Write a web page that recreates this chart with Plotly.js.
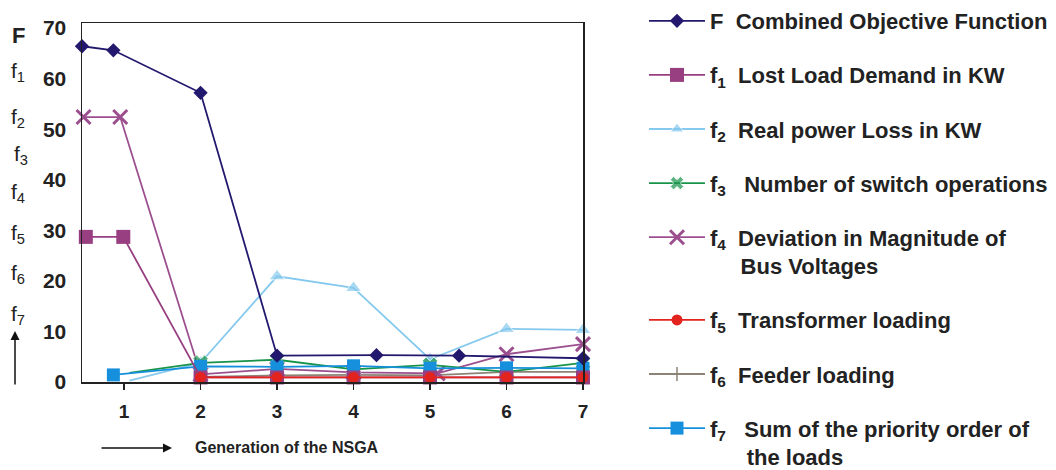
<!DOCTYPE html>
<html>
<head>
<meta charset="utf-8">
<script src="https://cdn.plot.ly/plotly-3.0.1.min.js"></script>
<style>html,body{margin:0;padding:0;background:#fff;}#chart{width:1056px;height:470px;}</style>
</head>
<body>
<div id="chart"></div>
<script>
// Generation positions (x) and objective values (y)
const xF  = [0.45, 0.86, 2, 3, 4.3, 5.38, 7];
const yF  = [66.4, 65.6, 57.2, 5.2, 5.3, 5.2, 4.7];
const xF1 = [0.5, 0.99, 2, 3, 4, 5, 6, 7];
const yF1 = [28.7, 28.7, 0.9, 0.9, 0.9, 0.9, 0.9, 0.9];
const xF2 = [1.07, 2, 3, 4, 5, 6, 7];
const yF2 = [0.25, 3.8, 20.9, 18.6, 4.5, 10.5, 10.3];
const xF3 = [1.07, 2, 3, 4, 5, 6, 7];
const yF3 = [1.8, 3.8, 4.4, 2.5, 3.4, 2.0, 3.8];
const xF4 = [0.47, 0.95, 2, 3, 4, 5.1, 6, 7];
const yF4 = [52.4, 52.4, 1.5, 2.6, 1.9, 1.7, 5.5, 7.5];
const xF5 = [2, 3, 4, 5, 6, 7];
const yF5 = [0.9, 0.9, 0.9, 0.9, 0.9, 0.9];
const xF6 = [2, 3, 4, 5, 6, 7];
const yF6 = [1.0, 1.3, 1.4, 1.3, 2.0, 2.0];
const xF7 = [0.86, 2, 3, 4, 5, 6, 7];
const yF7 = [1.4, 3.1, 3.0, 3.2, 2.7, 2.8, 2.7];

const names = [
  'F\u00a0\u00a0Combined Objective Function',
  'f<sub>1</sub>\u00a0\u00a0Lost Load Demand in KW',
  'f<sub>2</sub>\u00a0\u00a0Real power Loss in KW',
  'f<sub>3</sub>\u00a0\u00a0\u00a0Number of switch operations',
  'f<sub>4</sub>\u00a0\u00a0Deviation in Magnitude of<br>\u00a0\u00a0\u00a0\u00a0\u00a0Bus Voltages',
  'f<sub>5</sub>\u00a0\u00a0Transformer loading',
  'f<sub>6</sub>\u00a0\u00a0Feeder loading',
  'f<sub>7</sub>\u00a0\u00a0\u00a0Sum of the priority order of<br>\u00a0\u00a0\u00a0\u00a0\u00a0\u00a0the loads'
];

function tr(x, y, rank, color, symbol, size, extra) {
  const t = {
    type: 'scatter', mode: 'lines+markers', x: x, y: y,
    name: names[rank], legendrank: rank + 1, legendgroup: 'g' + rank,
    cliponaxis: false,
    line: {color: color, width: 1.8},
    marker: {color: color, symbol: symbol, size: size}
  };
  if (extra) Object.assign(t.marker, extra);
  return t;
}

const data = [
  tr(xF2, yF2, 2, '#86c9ee', 'triangle-up', [0, 14, 14, 14, 14, 14, 14]),
  tr(xF6, yF6, 6, '#8c8275', 'line-ns-open', 10, {line: {color: '#8c8275', width: 1.5}}),
  tr(xF4, yF4, 4, '#9c4f8e', 'x-thin-open', 14, {line: {color: '#9c4f8e', width: 3}}),
  tr(xF3, yF3, 3, '#17944a', 'x', [0, 14, 14, 14, 14, 14, 14]),
  tr(xF7, yF7, 7, '#1690dc', 'square', 13),
  tr(xF1, yF1, 1, '#973f80', 'square', 14),
  tr(xF5, yF5, 5, '#e2231e', 'circle', 11),
  tr(xF,  yF,  0, '#22186e', 'diamond', 11)
];

const sideLabels = ['F', 'f<sub>1</sub>', 'f<sub>2</sub>', 'f<sub>3</sub>', 'f<sub>4</sub>', 'f<sub>5</sub>', 'f<sub>6</sub>', 'f<sub>7</sub>'];
const sideY = [35, 72, 118, 155, 193, 234, 274, 315];
const sideX = [18, 18, 18, 21, 18, 18, 18, 18];

const annotations = sideLabels.map((s, i) => ({
  text: s, xref: 'paper', yref: 'paper', showarrow: false,
  x: (sideX[i] - 82) / 501, y: (382 - sideY[i]) / 359,
  xanchor: 'center', yanchor: 'middle',
  font: {family: 'Liberation Sans, Arial, sans-serif', size: i === 0 ? 22 : 21, color: '#222', weight: i === 0 ? 'bold' : 'normal'}
}));
// upward arrow under the side labels
annotations.push({
  text: '', xref: 'paper', yref: 'paper', x: (15 - 82) / 501, y: (382 - 331) / 359,
  ax: 0, ay: 55, showarrow: true, arrowhead: 2, arrowsize: 1.2, arrowwidth: 1.5, arrowcolor: '#111'
});
// x-axis title arrow
annotations.push({
  text: '', xref: 'paper', yref: 'paper', x: (172 - 82) / 501, y: (382 - 448) / 359,
  ax: -72, ay: 0, showarrow: true, arrowhead: 2, arrowsize: 1.2, arrowwidth: 1.5, arrowcolor: '#111'
});
annotations.push({
  text: 'Generation of the NSGA', xref: 'paper', yref: 'paper', showarrow: false,
  x: (193 - 82) / 501, y: (382 - 448) / 359, xanchor: 'left', yanchor: 'middle',
  font: {family: 'Liberation Sans, Arial, sans-serif', size: 16, color: '#222', weight: 'bold'}
});

const layout = {
  width: 1056, height: 470,
  margin: {l: 82, r: 473, t: 23, b: 88, pad: 0},
  paper_bgcolor: '#ffffff', plot_bgcolor: '#ffffff',
  showlegend: true,
  legend: {
    xref: 'container', yref: 'container', x: 644 / 1056, y: 1.006,
    xanchor: 'left', yanchor: 'top', maxheight: 480,
    font: {family: 'Liberation Sans, Arial, sans-serif', size: 22, color: '#222', weight: 'bold'},
    tracegroupgap: 22.5, itemwidth: 56, valign: 'top', bgcolor: 'rgba(0,0,0,0)'
  },
  xaxis: {
    range: [0.45, 7.0], tickmode: 'array', tickvals: [1, 2, 3, 4, 5, 6, 7],
    ticks: 'outside', ticklen: 6, tickwidth: 1.5, tickcolor: '#222',
    showline: true, mirror: true, linecolor: '#222', linewidth: 1.5,
    showgrid: false, zeroline: false, ticklabelstandoff: 6,
    tickfont: {family: 'Liberation Sans, Arial, sans-serif', size: 19, color: '#222', weight: 'bold'}
  },
  yaxis: {
    range: [0, 71], tickmode: 'array', tickvals: [0, 10, 20, 30, 40, 50, 60, 70],
    ticks: '', showline: true, mirror: true, linecolor: '#222', linewidth: 1.5,
    showgrid: false, zeroline: false, ticklabelstandoff: 10,
    tickfont: {family: 'Liberation Sans, Arial, sans-serif', size: 21, color: '#222', weight: 'bold'}
  },
  annotations: annotations
};

Plotly.newPlot('chart', data, layout, {displayModeBar: false, staticPlot: true});
</script>
</body>
</html>
